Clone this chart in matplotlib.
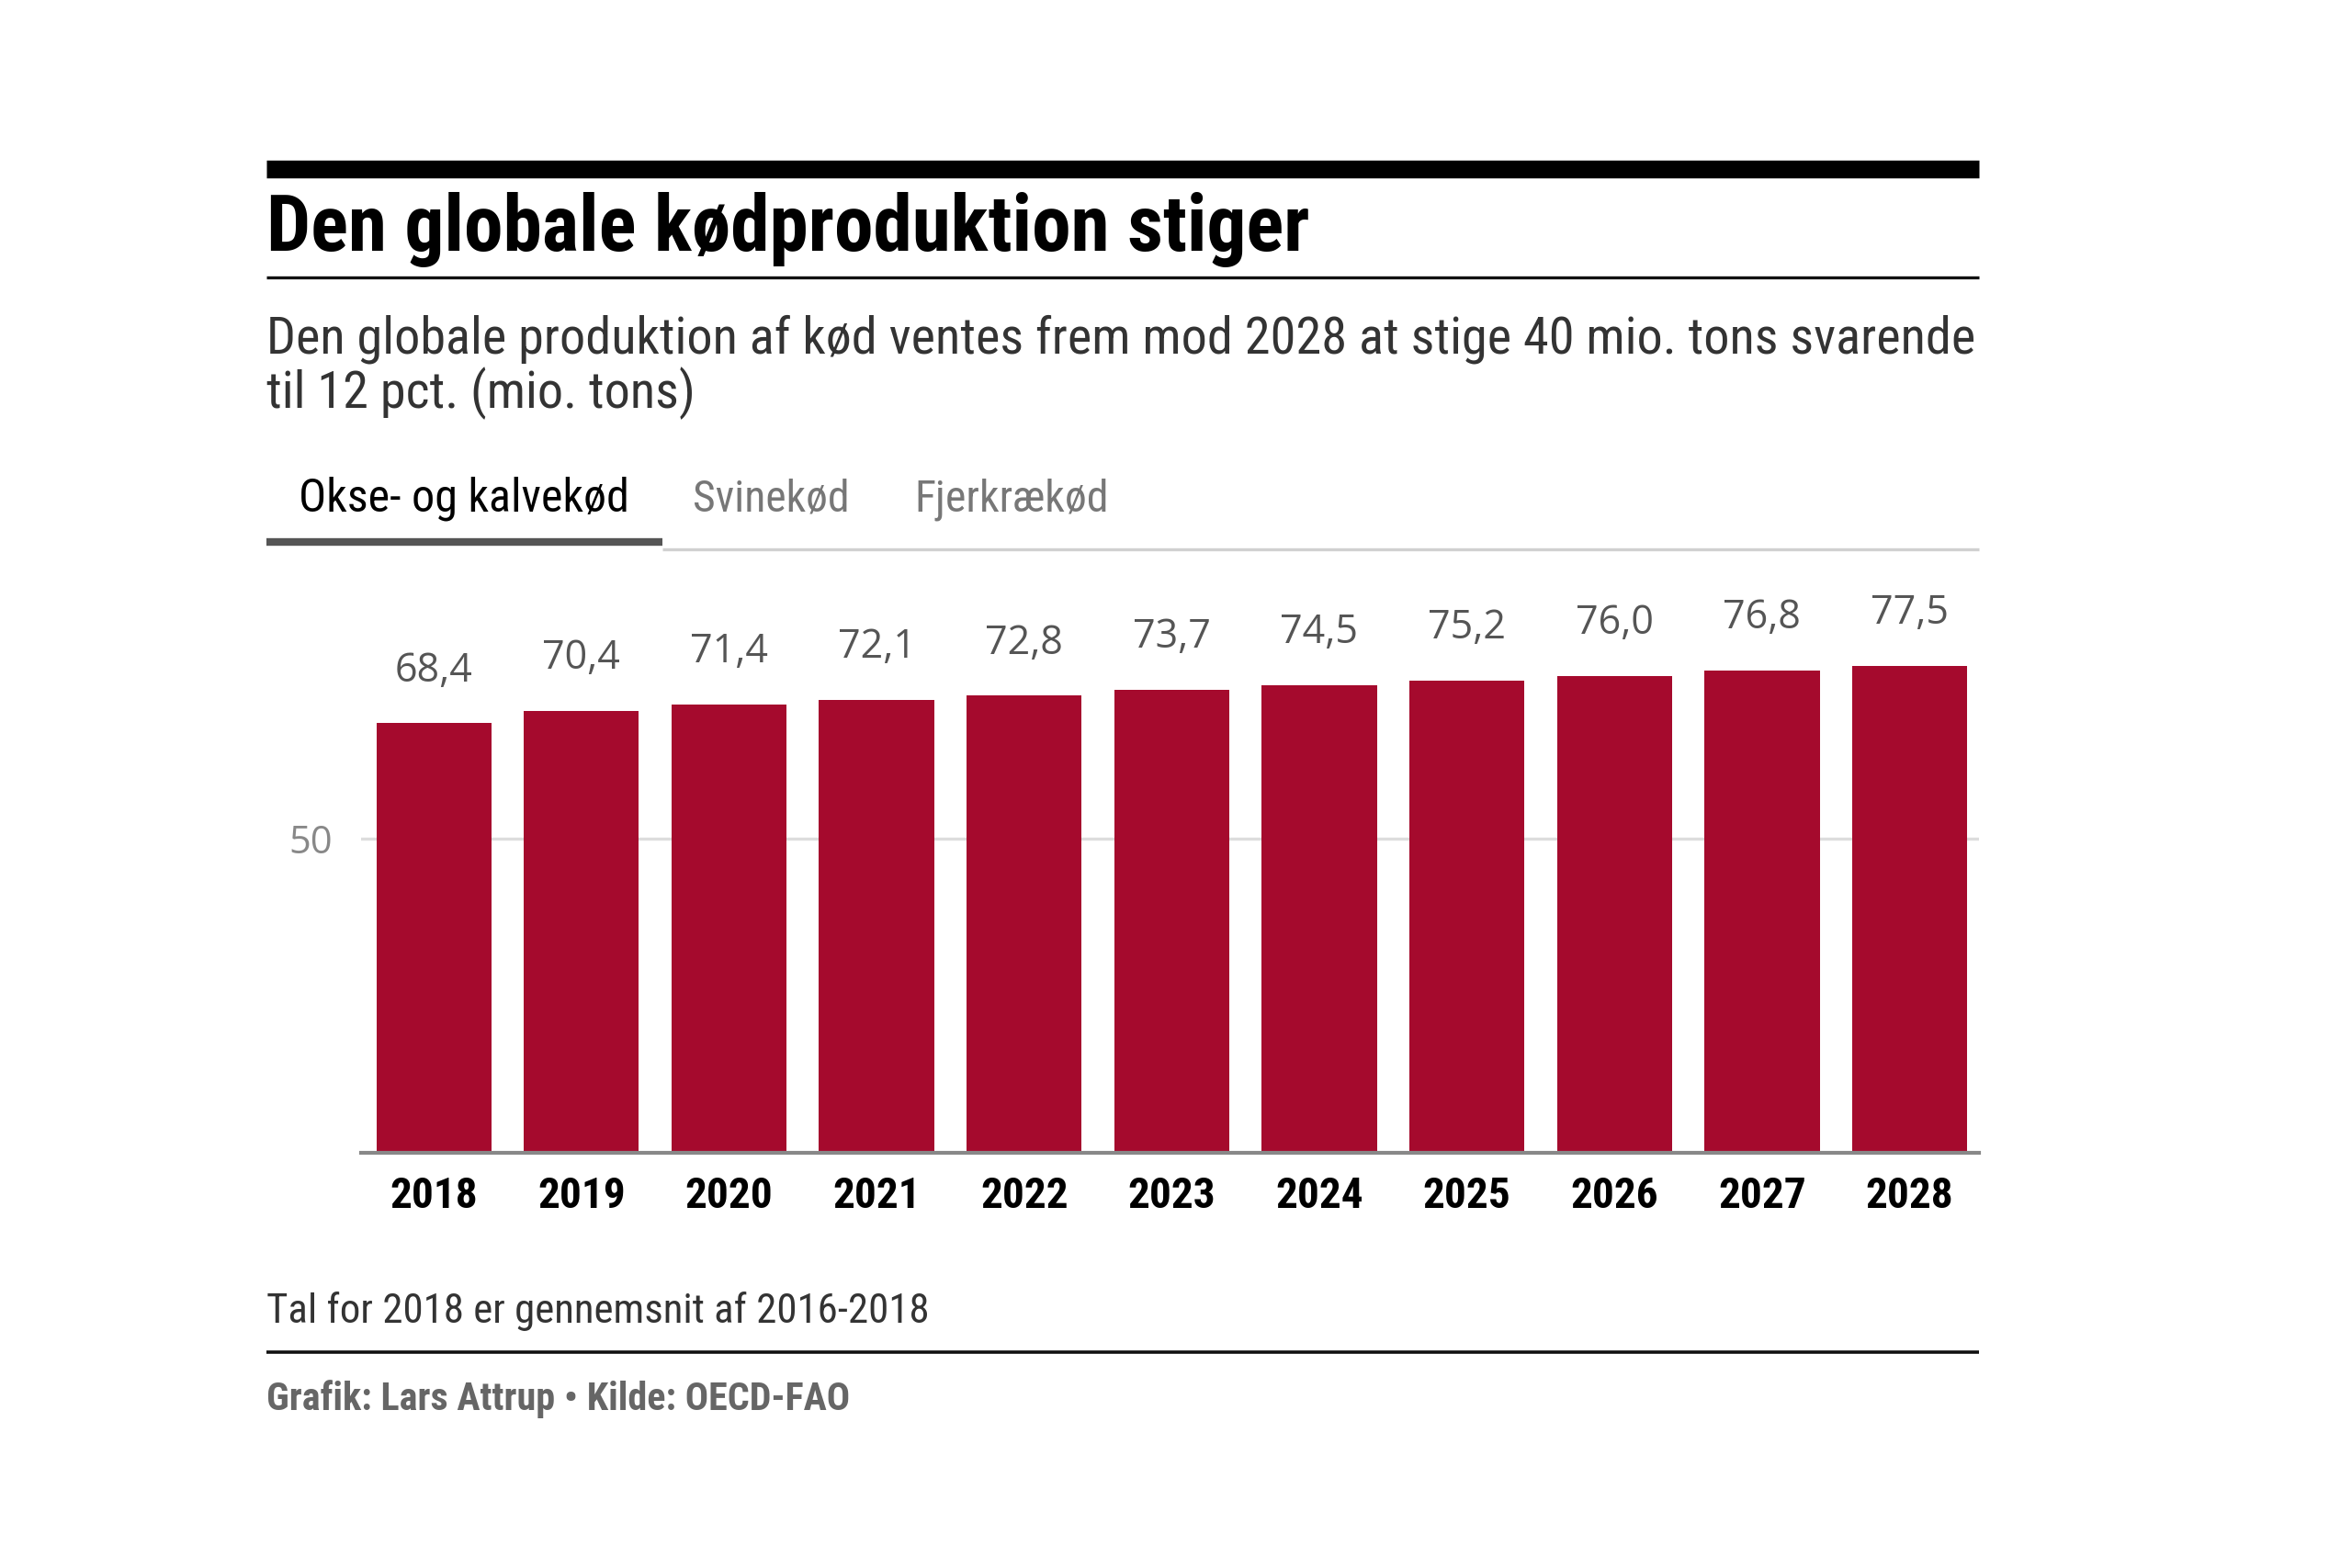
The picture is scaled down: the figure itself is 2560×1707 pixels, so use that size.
import matplotlib
matplotlib.use("Agg")
import matplotlib.pyplot as plt
from matplotlib import font_manager

# data
years = ['2018', '2019', '2020', '2021', '2022', '2023', '2024', '2025', '2026', '2027', '2028']
values = [68.4, 70.4, 71.4, 72.1, 72.8, 73.7, 74.5, 75.2, 76.0, 76.8, 77.5]
y_ticks = [50]
tabs = ['Okse- og kalvekød', 'Svinekød', 'Fjerkrækød']

title = 'Den globale kødproduktion stiger'
subtitle = ['Den globale produktion af kød ventes frem mod 2028 at stige 40 mio. tons svarende',
            'til 12 pct. (mio. tons)']
note = 'Tal for 2018 er gennemsnit af 2016-2018'
credit = 'Grafik: Lars Attrup \u2022 Kilde: OECD-FAO'

# fonts
names = {f.name for f in font_manager.fontManager.ttflist}
narrow = next((n for n in ['Roboto Condensed', 'Liberation Sans Narrow', 'DejaVu Sans'] if n in names), 'DejaVu Sans')
plain = 'Open Sans' if 'Open Sans' in names else 'DejaVu Sans'

bar_color = '#a50a2d'

fig = plt.figure(figsize=(25.6, 17.07), dpi=100)
fig.patch.set_facecolor('white')
renderer = fig.canvas.get_renderer()


def fit_text(x, y, s, x_right, **kw):
    """draw text and scale its size so it ends at x_right (figure fraction)"""
    t = fig.text(x, y, s, **kw)
    w = t.get_window_extent(renderer).width
    target = (x_right - x) * fig.bbox.width
    t.set_fontsize(t.get_fontsize() * target / w)
    return t


L, R = 0.1133, 0.8414

# header rules and texts
fig.add_artist(plt.Line2D([L, R], [0.892, 0.892], color='black', lw=14, solid_capstyle='butt'))
fit_text(L, 0.840, title, 0.557, family=narrow, weight='bold', color='black', fontsize=50, va='baseline')
fig.add_artist(plt.Line2D([L, R], [0.8233, 0.8233], color='#111111', lw=2.4, solid_capstyle='butt'))
sub1 = fit_text(L, 0.7748, subtitle[0], 0.8401, family=narrow, color='#333333', fontsize=36, va='baseline')
fig.text(L, 0.7398, subtitle[1], family=narrow, color='#333333', va='baseline', fontsize=sub1.get_fontsize())

# tabs
tab_x = [(0.1269, 0.2673), (0.2945, 0.3612), (0.3890, 0.4718)]
for i, (name, (x0, x1)) in enumerate(zip(tabs, tab_x)):
    fit_text(x0, 0.6738, name, x1, family=narrow, weight='normal',
             color='black' if i == 0 else '#777777', fontsize=30, va='baseline')
fig.add_artist(plt.Line2D([0.2816, R], [0.6495, 0.6495], color='#d0d0d0', lw=2.4, solid_capstyle='butt'))
fig.add_artist(plt.Line2D([L, 0.2816], [0.6544, 0.6544], color='#555555', lw=6, solid_capstyle='butt'))

# bar chart
ax = fig.add_axes([0.1534, 0.2650, R - 0.1534, 0.6311 - 0.2650])
x = range(len(years))
bars = ax.bar(x, values, width=0.78, color=bar_color, zorder=3)
for b, v in zip(bars, values):
    ax.annotate(f'{v:.1f}'.replace('.', ','), (b.get_x() + b.get_width() / 2, v),
                xytext=(0, 33), textcoords='offset points', ha='center', va='baseline',
                family=plain, fontsize=31, color='#555555')

ax.set_xlim(-0.495, 10.47)
ax.set_ylim(0, 91.5)
ax.set_xticks(list(x), years)
ax.set_yticks(y_ticks, [str(t) for t in y_ticks])
ax.tick_params(axis='x', length=0, pad=18, labelsize=34, labelcolor='black')
ax.tick_params(axis='y', length=0, pad=22, labelsize=30, labelcolor='#888888')
for lab in ax.get_xticklabels():
    lab.set_family(narrow)
    lab.set_weight('bold')
for lab in ax.get_yticklabels():
    lab.set_family(plain)
ax.grid(axis='y', color='#dddddd', lw=2.4, zorder=0)
for s in ['top', 'right', 'left']:
    ax.spines[s].set_visible(False)
ax.spines['bottom'].set_color('#888888')
ax.spines['bottom'].set_linewidth(3)
ax.spines['bottom'].set_zorder(4)

# footer
fit_text(L, 0.1563, note, 0.3955, family=narrow, color='#333333', fontsize=30, va='baseline')
fig.add_artist(plt.Line2D([L, R], [0.1379, 0.1379], color='#111111', lw=2.6, solid_capstyle='butt'))
fit_text(L, 0.1010, credit, 0.3618, family=narrow, weight='bold', color='#666666', fontsize=26, va='baseline')

fig.savefig('out.png', dpi=100, facecolor='white')
